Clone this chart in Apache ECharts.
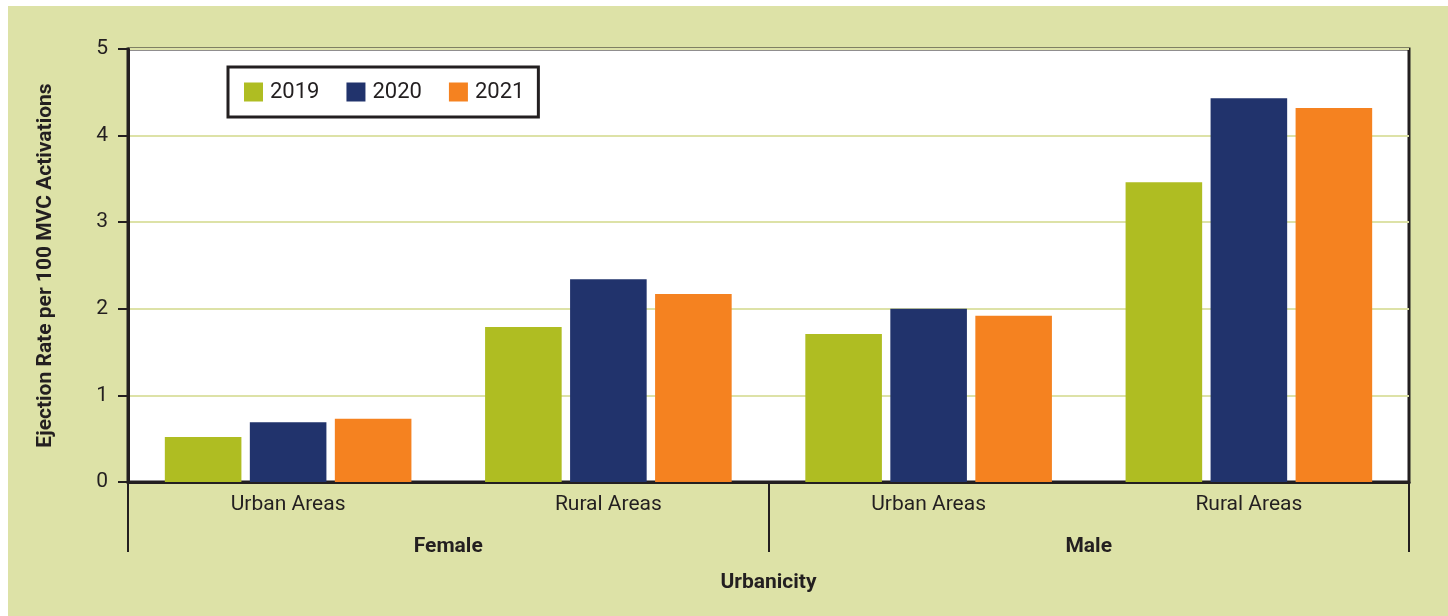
<!DOCTYPE html>
<html>
<head>
<meta charset="utf-8">
<script src="https://cdn.jsdelivr.net/npm/echarts@6/dist/echarts.min.js"></script>
<style>
  html, body { margin: 0; padding: 0; background: #fff; }
  #chart { width: 1448px; height: 616px; }
</style>
</head>
<body>
<div id="chart"></div>
<script>
// data
const groups = ['Female', 'Male'];
const areas = ['Urban Areas', 'Rural Areas', 'Urban Areas', 'Rural Areas'];
const years = ['2019', '2020', '2021'];
const rate2019 = [0.52, 1.79, 1.71, 3.46];
const rate2020 = [0.69, 2.34, 2.00, 4.43];
const rate2021 = [0.73, 2.17, 1.92, 4.32];
const yTicks = [0, 1, 2, 3, 4, 5];

const colors = ['#afbd22', '#21336c', '#f58220'];
const ink = '#231f20';
const font = "Roboto, 'Liberation Sans', sans-serif";

const chart = echarts.init(document.getElementById('chart'));
const seriesData = [rate2019, rate2020, rate2021];

chart.setOption({
  backgroundColor: '#fff',
  textStyle: { fontFamily: font, color: ink },
  graphic: [{
    type: 'rect', z: -10, silent: true,
    shape: { x: 8, y: 6, width: 1440, height: 610 },
    style: { fill: '#dde2a7' }
  }],
  legend: {
    left: 228, top: 67,
    data: years,
    backgroundColor: '#fff',
    borderColor: ink, borderWidth: 3,
    padding: [14, 14, 14, 16],
    itemWidth: 19, itemHeight: 19, itemGap: 27,
    icon: 'rect',
    textStyle: { fontFamily: font, fontSize: 22, color: ink, padding: [0, 0, 0, 2] }
  },
  grid: {
    left: 128, right: 39, top: 49, bottom: 134,
    show: true, backgroundColor: '#fff',
    borderColor: ink, borderWidth: 3
  },
  xAxis: [{
    type: 'category',
    data: areas.map((a, i) => i + '|' + a),
    axisLine: { lineStyle: { color: ink, width: 3 } },
    axisTick: { show: false },
    axisLabel: {
      margin: 12, fontSize: 21, color: ink, fontFamily: font,
      formatter: v => v.split('|')[1]
    }
  }, {
    type: 'category',
    data: groups,
    position: 'bottom',
    axisLine: { show: false },
    axisTick: { show: true, length: 70, interval: 0, lineStyle: { color: ink, width: 2 } },
    axisLabel: { margin: 54, fontSize: 21, fontWeight: 'bold', color: ink, fontFamily: font },
    name: 'Urbanicity',
    nameLocation: 'middle',
    nameGap: 90,
    nameTextStyle: { fontSize: 21, fontWeight: 'bold', color: ink, fontFamily: font }
  }],
  yAxis: {
    type: 'value',
    min: yTicks[0], max: yTicks[yTicks.length - 1], interval: 1,
    name: 'Ejection Rate per 100 MVC Activations',
    nameLocation: 'middle',
    nameGap: 72,
    nameTextStyle: { fontSize: 21, fontWeight: 'bold', color: ink, fontFamily: font },
    axisLine: { show: true, lineStyle: { color: ink, width: 3 } },
    axisTick: { show: true, length: 10, lineStyle: { color: ink, width: 2 } },
    axisLabel: { margin: 20, fontSize: 21, color: ink, fontFamily: font },
    splitLine: { lineStyle: { color: '#dde2a7', width: 2 } }
  },
  series: years.map((y, i) => ({
    name: y,
    type: 'bar',
    xAxisIndex: 0,
    data: seriesData[i],
    itemStyle: { color: colors[i] },
    barGap: '11%',
    barCategoryGap: '23%'
  }))
});
</script>
</body>
</html>
